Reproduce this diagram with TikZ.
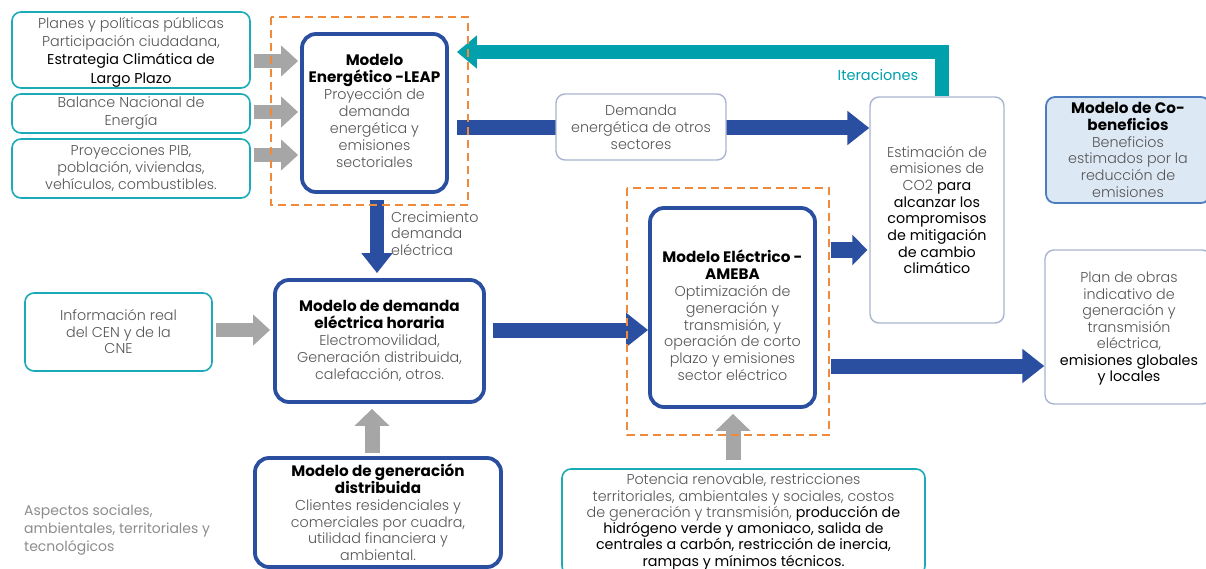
\documentclass[tikz,border=0pt]{standalone}
\usepackage{fontspec}
\setmainfont{Poppins}[UprightFont=* Light, BoldFont=* Bold]
\newfontfamily\regfont{Poppins}
\usetikzlibrary{arrows.meta,calc}
\definecolor{dblue}{HTML}{2A4FA0}
\definecolor{tealA}{HTML}{00A0AD}
\definecolor{tealB}{HTML}{1AAAB8}
\definecolor{orng}{HTML}{F0893A}
\definecolor{garr}{HTML}{A6A6A6}
\definecolor{txtg}{HTML}{555555}
\definecolor{lbord}{HTML}{A8B4D0}
\definecolor{cofill}{HTML}{DDE8F5}
\definecolor{cobord}{HTML}{4C7DBE}
\definecolor{aspg}{HTML}{8C8C8C}
\newcommand\bk[1]{{\regfont\color{black}#1}}
\newcommand\ttl[1]{{\fontsize{15.2}{17}\selectfont\bfseries\color{black}#1}}
\newcommand\bsk[1]{\fontsize{14.3}{#1}\selectfont}
\tikzset{
  box/.style={draw, rounded corners=9pt, align=center, inner sep=0pt, text=txtg, fill=white,
    font=\bsk{16.8}},
  inbox/.style={box, draw=tealB, line width=1.6pt},
  modelbox/.style={box, draw=dblue, line width=3.8pt, rounded corners=14pt},
  lbox/.style={box, draw=lbord, line width=1.4pt},
  dashbox/.style={draw=orng, line width=2.2pt, dash pattern=on 8pt off 5pt},
  garrow/.style={draw=garr, line width=14pt, -{Triangle[length=17pt,width=30pt,fill=garr]}},
  barrow/.style={draw=dblue, line width=15pt, -{Triangle[length=22pt,width=33pt,fill=dblue]}},
  plaintext/.style={align=center, inner sep=0pt, text=txtg, font=\bsk{16.8}},
}
\begin{document}
\begin{tikzpicture}[x=1pt,y=-1pt]
\useasboundingbox (0,0) rectangle (1206,569);

% input boxes
\node[inbox, minimum width=238pt, minimum height=76pt] (pla) at (131,50) {};
\node[plaintext, font=\bsk{18.3}] (plat) at ($(pla)+(0,2)$)
  {Planes y políticas públicas\\Participación ciudadana,\\\bk{Estrategia Climática de}\\\bk{Largo Plazo}};
\node[inbox, font=\bsk{18}, minimum width=238pt, minimum height=39pt] (bal) at (131,113.5)
  {Balance Nacional de\\Energía};
\node[inbox, font=\bsk{17}, minimum width=238pt, minimum height=59pt] (pro) at (131,168.5)
  {Proyecciones PIB,\\población, viviendas,\\vehículos, combustibles.};

% LEAP
\node[modelbox, minimum width=145pt, minimum height=158pt] (leap) at (374.5,113) {};
\node[plaintext, font=\bsk{17}] (leapt) at ($(leap)+(0,-2)$)
  {\ttl{Modelo}\\\ttl{Energético -LEAP}\\Proyección de\\demanda\\energética y\\emisiones\\sectoriales};

% estimation box
\node[lbox, font=\bsk{16.7}, minimum width=134pt, minimum height=226pt] (est) at (937,210)
  {Estimación de\\emisiones de\\CO2 \bk{para}\\\bk{alcanzar los}\\\bk{compromisos}\\\bk{de mitigación}\\\bk{de cambio}\\\bk{climático}};

% co-beneficios
\node[box, draw=cobord, fill=cofill, line width=1.8pt, minimum width=164pt, minimum height=106pt] (cob) at (1128,150)
  {\ttl{Modelo de Co-}\\\ttl{beneficios}\\Beneficios\\estimados por la\\reducción de\\emisiones};

% plan de obras
\node[lbox, minimum width=166pt, minimum height=154pt] (plan) at (1128,327) {};
\node[plaintext, font=\bsk{16.5}] (plant) at ($(plan)+(1,2)$)
  {Plan de obras\\indicativo de\\generación y\\transmisión\\eléctrica,\\\bk{emisiones globales}\\\bk{y locales}};

% info CEN
\node[inbox, font=\bsk{16.5}, minimum width=187pt, minimum height=78pt] (info) at (118.5,332)
  {Información real\\del CEN y de la\\CNE};

% demand model
\node[modelbox, font=\bsk{17}, minimum width=209pt, minimum height=122pt] (dem) at (379.5,341)
  {\ttl{Modelo de demanda}\\\ttl{eléctrica horaria}\\Electromovilidad,\\Generación distribuida,\\calefacción, otros.};

% AMEBA
\node[modelbox, minimum width=165pt, minimum height=199pt] (ame) at (732.5,307.5) {};
\node[plaintext] (amet) at ($(ame)+(0,8)$)
  {\ttl{Modelo Eléctrico -}\\\ttl{AMEBA}\\Optimización de\\generación y\\transmisión, y\\operación de corto\\plazo y emisiones\\sector eléctrico};

% generacion distribuida
\node[modelbox, minimum width=246pt, minimum height=109pt] (gd) at (378,512.5)
  {\ttl{Modelo de generación}\\\ttl{distribuida}\\Clientes residenciales y\\comerciales por cuadra,\\utilidad financiera y\\ambiental.};

% potencia
\node[inbox, minimum width=363pt, minimum height=106pt] (pot) at (743.5,522) {};
\node[plaintext, font=\bsk{16.3}] (pott) at ($(pot)+(0,0)$)
  {Potencia renovable, restricciones\\territoriales, ambientales y sociales, costos\\de generación y transmisión, \bk{producción de}\\\bk{hidrógeno verde y amoniaco, salida de}\\\bk{centrales a carbón, restricción de inercia,}\\\bk{rampas y mínimos técnicos.}};

% aspectos
\node[anchor=west, align=left, inner sep=0pt, text=aspg, font=\regfont\fontsize{14}{18}\selectfont] (asp) at (24,530)
  {Aspectos sociales,\\ambientales, territoriales y\\tecnológicos};

% gray arrows
\draw[garrow] ($(pla.east)+(3,11)$) -- ($(leap.west |- pla.east)+(-2,11)$);
\draw[garrow] ($(bal.east)+(3,-1.5)$) -- ($(leap.west |- bal.east)+(-2,-1.5)$);
\draw[garrow] ($(pro.east)+(3,-13.5)$) -- ($(leap.west |- pro.east)+(-2,-13.5)$);
\draw[garrow] ($(info.east)+(3,-2)$) -- ($(dem.west |- info.east)+(-3,-2)$);
\draw[garrow, line width=15pt, -{Triangle[length=17pt,width=34pt,fill=garr]}]
  ($(gd.north)+(-6,-3)$) -- ($(dem.south -| gd.north)+(-6,5)$);
\draw[garrow, line width=15pt, -{Triangle[length=17pt,width=34pt,fill=garr]}]
  ($(pot.north)+(-10.5,-8)$) -- ($(ame.south -| pot.north)+(-10.5,5)$);

% blue arrows
\draw[barrow] ($(leap.east)+(8,15)$) -- ($(est.west |- leap.east)+(0,15)$);
\node[lbox, minimum width=170pt, minimum height=66pt] (dem2) at (641,127)
  {Demanda\\energética de otros\\sectores};
\draw[barrow, line width=14pt, -{Triangle[length=20pt,width=30pt,fill=dblue]}]
  ($(leap.south)+(2.5,6)$) -- ($(dem.north -| leap.south)+(2.5,-5)$);
\draw[barrow] ($(dem.east)+(7,-11)$) -- ($(ame.west |- dem.east)+(0,-11)$);
\draw[barrow, -{Triangle[length=15pt,width=30pt,fill=dblue]}]
  ($(ame.east)+(14,-57.5)$) -- ($(est.west |- ame.east)+(-2,-57.5)$);
\draw[barrow] ($(ame.east)+(14,58.5)$) -- ($(plan.west |- ame.east)+(0,58.5)$);

% iteration arrow
\draw[draw=tealA, line width=14pt, -{Triangle[length=20pt,width=32pt,fill=tealA]}]
  ($(est.north)+(5,0)$) |- ($(leap.east)+(8,-61)$);
\node[text=tealA, inner sep=0pt, font=\regfont\fontsize{14.5}{17}\selectfont] (iter) at (878,75) {Iteraciones};

% crecimiento label
\node[anchor=west, align=left, inner sep=0pt, text=txtg, font=\bsk{16.5}] (crec) at (391,233.5)
  {Crecimiento\\demanda\\eléctrica};

% dashed frames
\draw[dashbox] (271,17) rectangle (468,205);
\draw[dashbox] (627,188) rectangle (829,435);
\end{tikzpicture}
\end{document}
